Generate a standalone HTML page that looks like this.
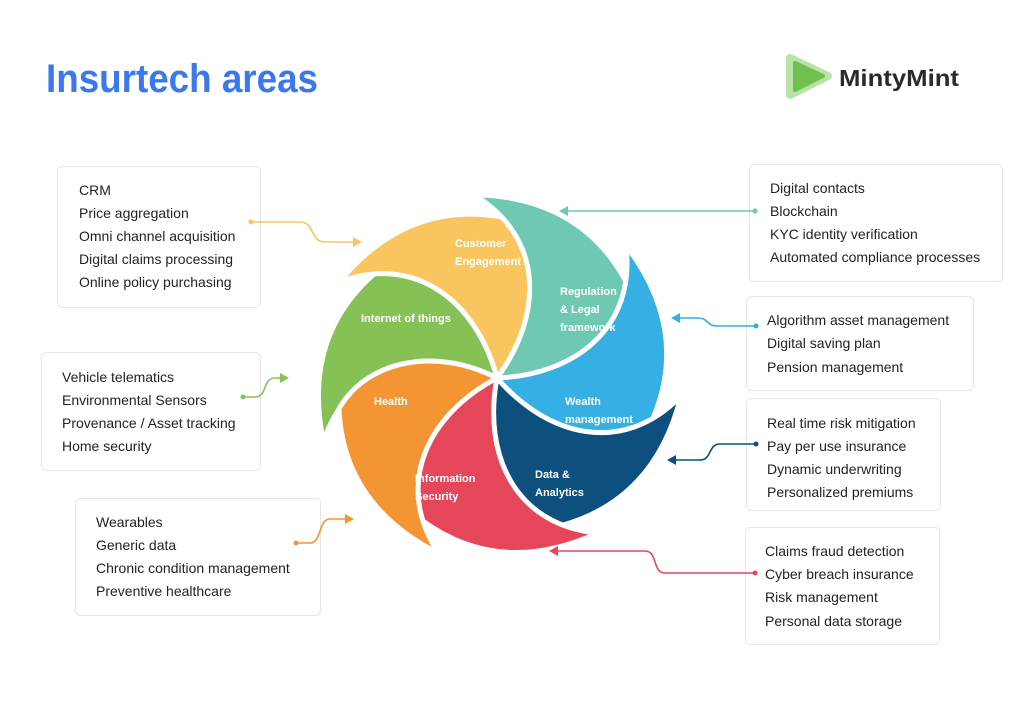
<!DOCTYPE html>
<html><head><meta charset="utf-8"><style>
html,body{margin:0;padding:0;background:#fff;}
svg{display:block;}
text{font-family:"Liberation Sans",sans-serif;}
.b{fill:#fff;stroke:#e6e6e6;stroke-width:1;}
.t{font-size:14px;fill:#222;}
.w{font-size:11px;fill:#fff;font-weight:bold;}
</style></head><body>
<svg width="1024" height="708" viewBox="0 0 1024 708">
<defs>
<path id="p" d="M-158 -96 Q-90 -178 5 -161 C45 -125 46 -55 0 0 C-20 -75 -80 -125 -158 -96 Z"/>
</defs>
<text x="46" y="92" font-size="40" font-weight="bold" fill="#3b78ee" textLength="272" lengthAdjust="spacingAndGlyphs">Insurtech areas</text>
<!-- logo -->
<path d="M790 58 L828 76 L790 95 Z" fill="#b9e3a6" stroke="#b9e3a6" stroke-width="8" stroke-linejoin="round"/>
<path d="M795 63 L823 76 L795 90 Z" fill="#6fc04f" stroke="#6fc04f" stroke-width="4" stroke-linejoin="round"/>
<text x="839" y="86" font-size="23" font-weight="bold" fill="#2a2a2a" textLength="120" lengthAdjust="spacingAndGlyphs">MintyMint</text>

<!-- pinwheel -->
<g transform="translate(497,378)" stroke="#fff" stroke-width="5" stroke-linejoin="round">
<use href="#p" fill="#86c155" transform="rotate(-51.43)"/>
<use href="#p" fill="#f8c55f" transform="rotate(0)"/>
<use href="#p" fill="#6fc8b2" transform="rotate(51.43)"/>
<use href="#p" fill="#35afe4" transform="rotate(102.86)"/>
<use href="#p" fill="#0d4f7d" transform="rotate(154.29)"/>
<use href="#p" fill="#e5465a" transform="rotate(205.71)"/>
<use href="#p" fill="#f39532" transform="rotate(257.14)"/>
</g>
<text class="w" x="455" y="247">Customer</text>
<text class="w" x="455" y="265">Engagement</text>
<text class="w" x="560" y="295">Regulation</text>
<text class="w" x="560" y="313">&amp; Legal</text>
<text class="w" x="560" y="331">framework</text>
<text class="w" x="361" y="322">Internet of things</text>
<text class="w" x="565" y="405">Wealth</text>
<text class="w" x="565" y="423">management</text>
<text class="w" x="374" y="405">Health</text>
<text class="w" x="535" y="478">Data &amp;</text>
<text class="w" x="535" y="496">Analytics</text>
<text class="w" x="415" y="482">Information</text>
<text class="w" x="415" y="500">Security</text>

<!-- boxes -->
<rect class="b" x="57.5" y="166.5" width="203" height="141" rx="5"/>
<text class="t" x="79" y="195">CRM</text>
<text class="t" x="79" y="218">Price aggregation</text>
<text class="t" x="79" y="241">Omni channel acquisition</text>
<text class="t" x="79" y="264">Digital claims processing</text>
<text class="t" x="79" y="287">Online policy purchasing</text>

<rect class="b" x="41.5" y="352.5" width="219" height="118" rx="5"/>
<text class="t" x="62" y="382">Vehicle telematics</text>
<text class="t" x="62" y="405">Environmental Sensors</text>
<text class="t" x="62" y="428">Provenance / Asset tracking</text>
<text class="t" x="62" y="451">Home security</text>

<rect class="b" x="75.5" y="498.5" width="245" height="117" rx="5"/>
<text class="t" x="96" y="527">Wearables</text>
<text class="t" x="96" y="550">Generic data</text>
<text class="t" x="96" y="573">Chronic condition management</text>
<text class="t" x="96" y="596">Preventive healthcare</text>

<rect class="b" x="749.5" y="164.5" width="253" height="117" rx="5"/>
<text class="t" x="770" y="193">Digital contacts</text>
<text class="t" x="770" y="216">Blockchain</text>
<text class="t" x="770" y="239">KYC identity verification</text>
<text class="t" x="770" y="262">Automated compliance processes</text>

<rect class="b" x="746.5" y="296.5" width="227" height="94" rx="5"/>
<text class="t" x="767" y="325">Algorithm asset management</text>
<text class="t" x="767" y="348">Digital saving plan</text>
<text class="t" x="767" y="372">Pension management</text>

<rect class="b" x="746.5" y="398.5" width="194" height="112" rx="5"/>
<text class="t" x="767" y="428">Real time risk mitigation</text>
<text class="t" x="767" y="451">Pay per use insurance</text>
<text class="t" x="767" y="474">Dynamic underwriting</text>
<text class="t" x="767" y="497">Personalized premiums</text>

<rect class="b" x="745.5" y="527.5" width="194" height="117" rx="5"/>
<text class="t" x="765" y="556">Claims fraud detection</text>
<text class="t" x="765" y="579">Cyber breach insurance</text>
<text class="t" x="765" y="602">Risk management</text>
<text class="t" x="765" y="626">Personal data storage</text>

<!-- connectors -->
<g fill="none" stroke-width="1.6">
<path d="M251 222 H300 C315 222 310 242 325 242 H355" stroke="#f8c55f"/>
<path d="M243 397 H255 C268 397 262 378 275 378 H282" stroke="#86c155"/>
<path d="M296 543 H310 C322 543 318 519 330 519 H347" stroke="#f39532"/>
<path d="M755 211 H566" stroke="#6fc8b2"/>
<path d="M756 326 H718 C705 326 710 318 697 318 H678" stroke="#35afe4"/>
<path d="M756 444 H720 C708 444 712 460 700 460 H674" stroke="#0d4f7d"/>
<path d="M755 573 H665 C652 573 658 551 645 551 H556" stroke="#e5465a"/>
</g>
<g>
<circle cx="251" cy="222" r="2.5" fill="#f8c55f"/><path d="M362 242 L353 237 L353 247 Z" fill="#f8c55f"/>
<circle cx="243" cy="397" r="2.5" fill="#86c155"/><path d="M289 378 L280 373 L280 383 Z" fill="#86c155"/>
<circle cx="296" cy="543" r="2.5" fill="#f39532"/><path d="M354 519 L345 514 L345 524 Z" fill="#f39532"/>
<circle cx="755" cy="211" r="2.5" fill="#6fc8b2"/><path d="M559 211 L568 206 L568 216 Z" fill="#6fc8b2"/>
<circle cx="756" cy="326" r="2.5" fill="#35afe4"/><path d="M671 318 L680 313 L680 323 Z" fill="#35afe4"/>
<circle cx="756" cy="444" r="2.5" fill="#0d4f7d"/><path d="M667 460 L676 455 L676 465 Z" fill="#0d4f7d"/>
<circle cx="755" cy="573" r="2.5" fill="#e5465a"/><path d="M549 551 L558 546 L558 556 Z" fill="#e5465a"/>
</g>
</svg>
</body></html>
